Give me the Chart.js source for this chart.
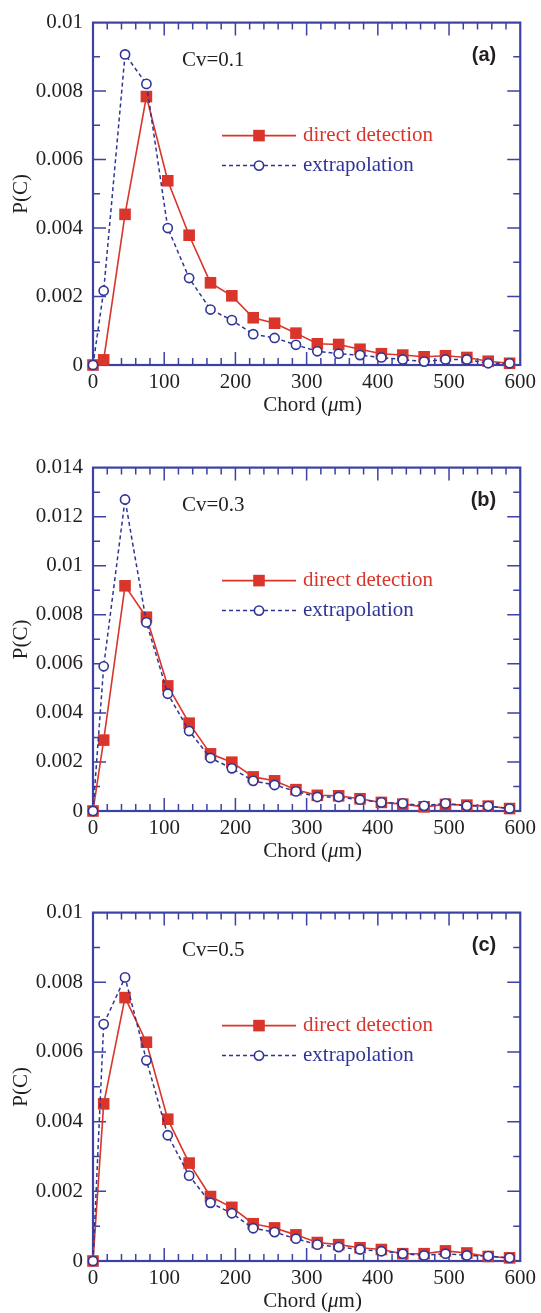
<!DOCTYPE html>
<html>
<head>
<meta charset="utf-8">
<title>Chord length distributions</title>
<script src="https://cdn.jsdelivr.net/npm/chart.js@4.4.0/dist/chart.umd.min.js"></script>
<style>
  body { margin: 0; background: #fff; }
  #wrap { position: relative; width: 541px; height: 1313px; }
  #wrap canvas { position: absolute; left: 0; }
</style>
</head>
<body>
<div id="wrap"></div>
<script>
// chord classes (µm) shared by all three panels
const chordLengths = [0, 15, 45, 75, 105, 135, 165, 195, 225, 255, 285, 315, 345, 375, 405, 435, 465, 495, 525, 555, 585];

// Cv = 0.1
const directA = [0, 0.00015, 0.0044, 0.00784, 0.00538, 0.00379, 0.0024, 0.00202, 0.00138, 0.00122, 0.00093, 0.00062, 0.0006, 0.00046, 0.00033, 0.00029, 0.00024, 0.00027, 0.00022, 0.00011, 0.00005];
const extrapA = [0, 0.00217, 0.00907, 0.00821, 0.004, 0.00254, 0.00162, 0.00131, 0.0009, 0.00079, 0.00059, 0.0004, 0.00033, 0.00029, 0.00022, 0.00016, 0.0001, 0.00016, 0.00016, 0.00005, 0.00005];

// Cv = 0.3
const directB = [0, 0.00289, 0.00918, 0.0079, 0.0051, 0.00358, 0.00233, 0.00199, 0.00139, 0.00123, 0.00087, 0.00064, 0.00062, 0.0005, 0.00035, 0.00028, 0.00017, 0.00027, 0.00024, 0.0002, 0.0001];
const extrapB = [0, 0.0059, 0.0127, 0.00769, 0.00478, 0.00326, 0.00216, 0.00174, 0.00123, 0.00106, 0.0008, 0.00057, 0.00057, 0.00046, 0.00035, 0.00031, 0.00021, 0.00031, 0.00021, 0.0002, 0.0001];

// Cv = 0.5
const directC = [0, 0.00451, 0.00756, 0.00628, 0.00407, 0.00281, 0.00185, 0.00154, 0.00107, 0.00095, 0.00075, 0.00053, 0.00047, 0.00038, 0.00033, 0.00021, 0.00021, 0.00029, 0.00023, 0.00013, 0.00009];
const extrapC = [0, 0.0068, 0.00814, 0.00576, 0.00361, 0.00245, 0.00167, 0.00137, 0.00094, 0.00083, 0.00064, 0.00047, 0.0004, 0.00033, 0.00028, 0.00021, 0.00016, 0.00021, 0.00016, 0.00014, 0.00009];

const cvLabels = ['Cv=0.1', 'Cv=0.3', 'Cv=0.5'];
const panelTags = ['(a)', '(b)', '(c)'];
const yMaxes = [0.01, 0.014, 0.01];
const seriesLabels = ['direct detection', 'extrapolation'];

const RED = '#d9352b';
const BLUE = '#2f3597';
const AXIS = '#3b42a3';
const INK = '#231f20';
const SERIF = '"Liberation Serif", "Times New Roman", serif';
const SANS = '"Liberation Sans", Arial, sans-serif';

// page geometry of each panel (canvas slice and plot box)
const PAGE_W = 541;
const PLOT_LEFT = 93, PLOT_RIGHT = 522;
const panels = [
  { top: 0,   height: 445, plotTop: 15,  plotBottom: 365 },
  { top: 445, height: 445, plotTop: 460, plotBottom: 811 },
  { top: 890, height: 423, plotTop: 911, plotBottom: 1261 }
];

const toPoints = ys => ys.map((y, i) => ({ x: chordLengths[i], y: y }));

// boxed frame with inward major/minor ticks on all four sides
const frameTicks = {
  id: 'frameTicks',
  beforeDatasetsDraw(chart) {
    const { ctx, chartArea: a, scales: { x, y } } = chart;
    ctx.save();
    ctx.strokeStyle = AXIS;
    ctx.lineWidth = 1.5;
    ctx.beginPath();
    for (let v = 20; v < 600; v += 20) {
      const px = x.getPixelForValue(v);
      const len = v % 100 === 0 ? 13 : 7;
      ctx.moveTo(px, a.bottom); ctx.lineTo(px, a.bottom - len);
      ctx.moveTo(px, a.top); ctx.lineTo(px, a.top + len);
    }
    const yMax = y.max;
    for (let k = 1; k * 0.001 < yMax - 1e-9; k++) {
      const py = y.getPixelForValue(k * 0.001);
      const len = k % 2 === 0 ? 13 : 7;
      ctx.moveTo(a.left, py); ctx.lineTo(a.left + len, py);
      ctx.moveTo(a.right, py); ctx.lineTo(a.right - len, py);
    }
    ctx.stroke();
    ctx.lineWidth = 2.2;
    ctx.strokeRect(a.left, a.top, a.right - a.left, a.bottom - a.top);
    ctx.restore();
  }
};

// axis titles, Cv note, panel tag and the line+marker legend
const panelText = {
  id: 'panelText',
  afterDraw(chart, args, opts) {
    const { ctx, chartArea: a } = chart;
    ctx.save();
    ctx.fillStyle = INK;
    ctx.font = '21px ' + SERIF;
    ctx.textBaseline = 'middle';
    ctx.textAlign = 'left';
    ctx.fillText(opts.cv, a.left + 89, a.top + 38);

    ctx.font = 'bold 20px ' + SANS;
    ctx.textAlign = 'right';
    ctx.fillText(opts.tag, a.right - 24, a.top + 33);

    // x title with italic mu
    ctx.font = '21px ' + SERIF;
    const p1 = 'Chord (', p3 = 'm)';
    const w1 = ctx.measureText(p1).width, w3 = ctx.measureText(p3).width;
    ctx.font = 'italic 21px ' + SERIF;
    const w2 = ctx.measureText('μ').width;
    let tx = (a.left + a.right) / 2 + 6 - (w1 + w2 + w3) / 2;
    const ty = a.bottom + 40;
    ctx.textAlign = 'left';
    ctx.font = '21px ' + SERIF;
    ctx.fillText(p1, tx, ty); tx += w1;
    ctx.font = 'italic 21px ' + SERIF;
    ctx.fillText('μ', tx, ty); tx += w2;
    ctx.font = '21px ' + SERIF;
    ctx.fillText(p3, tx, ty);

    // y title
    ctx.save();
    ctx.translate(21, (a.top + a.bottom) / 2);
    ctx.rotate(-Math.PI / 2);
    ctx.textAlign = 'center';
    ctx.fillText('P(C)', 0, 0);
    ctx.restore();

    // legend
    const x1 = a.left + 129, x2 = a.left + 203, xm = (x1 + x2) / 2;
    const rows = [
      { ds: chart.data.datasets[1], y: a.top + 113 },
      { ds: chart.data.datasets[0], y: a.top + 143 }
    ];
    rows.forEach(r => {
      const ds = r.ds;
      ctx.strokeStyle = ds.borderColor;
      ctx.lineWidth = ds.borderWidth;
      ctx.setLineDash(ds.borderDash || []);
      ctx.beginPath();
      ctx.moveTo(x1, r.y); ctx.lineTo(x2, r.y);
      ctx.stroke();
      ctx.setLineDash([]);
      if (ds.pointStyle === 'rect') {
        const s = ds.pointRadius * Math.SQRT1_2;
        ctx.fillStyle = ds.pointBackgroundColor;
        ctx.fillRect(xm - s, r.y - s, 2 * s, 2 * s);
      } else {
        ctx.beginPath();
        ctx.arc(xm, r.y, ds.pointRadius, 0, Math.PI * 2);
        ctx.fillStyle = ds.pointBackgroundColor;
        ctx.fill();
        ctx.lineWidth = ds.pointBorderWidth;
        ctx.strokeStyle = ds.pointBorderColor;
        ctx.stroke();
      }
      ctx.fillStyle = ds.borderColor === RED ? RED : BLUE;
      ctx.font = '21px ' + SERIF;
      ctx.textAlign = 'left';
      ctx.fillText(ds.label, x2 + 7, r.y);
    });
    ctx.restore();
  }
};

function makePanel(i, direct, extrap) {
  const p = panels[i];
  const canvas = document.createElement('canvas');
  canvas.width = PAGE_W;
  canvas.height = p.height;
  canvas.style.top = p.top + 'px';
  document.getElementById('wrap').appendChild(canvas);

  new Chart(canvas.getContext('2d'), {
    type: 'scatter',
    data: {
      datasets: [
        {
          label: seriesLabels[1],
          data: toPoints(extrap),
          showLine: true,
          borderColor: BLUE,
          borderWidth: 1.5,
          borderDash: [4, 3],
          pointStyle: 'circle',
          pointRadius: 4.6,
          pointBorderWidth: 1.6,
          pointBorderColor: BLUE,
          pointBackgroundColor: '#ffffff',
          clip: false,
          order: 0
        },
        {
          label: seriesLabels[0],
          data: toPoints(direct),
          showLine: true,
          borderColor: RED,
          borderWidth: 1.6,
          pointStyle: 'rect',
          pointRadius: 8.2,
          pointBorderWidth: 0,
          pointBackgroundColor: RED,
          clip: false,
          order: 1
        }
      ]
    },
    options: {
      responsive: false,
      animation: false,
      devicePixelRatio: 1,
      layout: { padding: { top: p.plotTop - p.top, right: PAGE_W - PLOT_RIGHT, left: 0, bottom: 0 } },
      plugins: {
        legend: { display: false },
        tooltip: { enabled: false },
        panelText: { cv: cvLabels[i], tag: panelTags[i] }
      },
      scales: {
        x: {
          type: 'linear',
          min: 0,
          max: 600,
          grid: { display: false, drawTicks: false },
          border: { display: false },
          ticks: { stepSize: 100, color: INK, font: { family: SERIF, size: 21 }, padding: 5, maxRotation: 0, autoSkip: false },
          afterFit: s => { s.height = p.height - (p.plotBottom - p.top); }
        },
        y: {
          min: 0,
          max: yMaxes[i],
          grid: { display: false, drawTicks: false },
          border: { display: false },
          ticks: {
            stepSize: 0.002,
            color: INK,
            font: { family: SERIF, size: 21 },
            padding: 10,
            callback: v => String(+v.toFixed(4))
          },
          afterFit: s => { s.width = PLOT_LEFT; }
        }
      }
    },
    plugins: [frameTicks, panelText]
  });
}

makePanel(0, directA, extrapA);
makePanel(1, directB, extrapB);
makePanel(2, directC, extrapC);
</script>
</body>
</html>
